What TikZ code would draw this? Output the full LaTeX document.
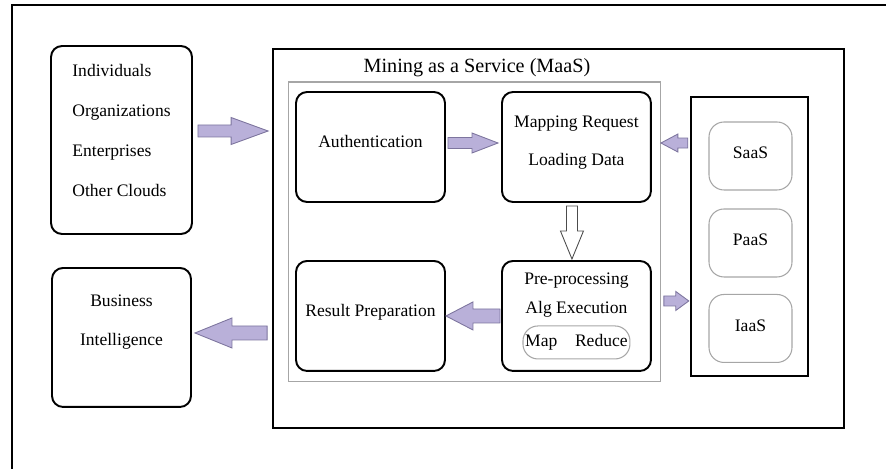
\documentclass[tikz,border=0pt]{standalone}
\usepackage{fontspec}
\setmainfont{Liberation Serif}
\usetikzlibrary{positioning,calc}

\definecolor{lavfill}{RGB}{185,176,217}
\definecolor{lavline}{RGB}{125,117,158}

% zero-width rule that lowers the last text line
\newcommand{\lowstrut}[1]{\rule[-#1]{0pt}{#1}}
% block arrow: [style]{from}{to}{shaft half width}{head half width}{head length}
\newcommand{\fatarrow}[6][lav]{%
  \coordinate (fa-b) at ($(#3)!#6!(#2)$);
  \draw[#1] ($(#2)!#4!90:(#3)$) -- ($(fa-b)!#4!90:(#3)$) -- ($(fa-b)!#5!90:(#3)$) -- (#3)
     -- ($(fa-b)!#5!-90:(#3)$) -- ($(fa-b)!#4!-90:(#3)$) -- ($(#2)!#4!-90:(#3)$) -- cycle;
}

\begin{document}
\begin{tikzpicture}[x=0.02cm, y=-0.02cm, on grid,
   rbox/.style={draw, line width=1.1pt, rounded corners=0.22cm, minimum width=2.98cm, minimum height=2.2cm, align=center, inner sep=2pt},
   gbox/.style={draw=gray!70, line width=0.6pt, rounded corners=0.3cm, minimum width=1.66cm, minimum height=1.36cm},
   mrbox/.style={draw=gray!70, line width=0.6pt, rounded corners=0.3cm, minimum width=2.14cm, minimum height=0.66cm, inner sep=1pt},
   frame/.style={draw, line width=1.1pt},
   lav/.style={fill=lavfill, draw=lavline, line width=0.5pt},
   hollow/.style={fill=white, draw=gray!60!black, line width=0.5pt}]
   \useasboundingbox (0,0) rectangle (886,469);
   \clip (0,0) rectangle (886,469);
   \node[frame, line width=1.5pt, minimum width=18.4cm, minimum height=10cm] (page) at (472,255) {};
   % users and results
   \node[rbox, minimum width=2.82cm, minimum height=3.76cm, align=left] (src) at (121.5,140)
        {Individuals\\[0.38cm]Organizations\\[0.38cm]Enterprises\\[0.38cm]Other Clouds\lowstrut{0.38cm}};
   \node[rbox, minimum width=2.78cm, minimum height=2.78cm, below=3.95cm of src] (bi)
        {Business\\[0.36cm]Intelligence\lowstrut{0.68cm}};
   % the service
   \node[frame, minimum width=11.42cm, minimum height=7.58cm] (maas) at (558.5,238.5) {};
   \node[font=\fontsize{11.5}{14}\selectfont] (maastitle) at (477,68) {Mining as a Service (MaaS)};
   \node[draw=gray!70, line width=0.6pt, minimum width=7.46cm, minimum height=6cm] (core) at (474.5,232) {};
   \node[rbox] (auth) at (370.5,147) {Authentication\lowstrut{0.24cm}};
   \node[rbox, right=4.12cm of auth] (mapreq) {Mapping Request\\[0.34cm]Loading Data\lowstrut{0.24cm}};
   \node[rbox, below=3.38cm of auth] (result) {Result Preparation\lowstrut{0.24cm}};
   \node[rbox, below=3.38cm of mapreq] (prep) {Pre-processing\\[0.16cm]Alg Execution\lowstrut{0.9cm}};
   \node[mrbox, below=0.53cm of prep] (mapred) {Map\quad Reduce};
   % cloud layers
   \node[frame, line width=1.4pt, minimum width=2.34cm, minimum height=5.58cm] (cloud) at (749.5,236.5) {};
   \node[gbox] (saas) at (750.5,156) {SaaS\lowstrut{0.12cm}};
   \node[gbox, below=1.74cm of saas] (paas) {PaaS\lowstrut{0.12cm}};
   \node[gbox, below=1.71cm of paas] (iaas) {IaaS\lowstrut{0.12cm}};
   % arrow ends
   \coordinate (in1) at ([shift={(.1cm,.18cm)}]src.east);
   \coordinate (in2) at ($(in1 -| maas.west)+(-.08cm,0)$);
   \coordinate (out1) at ([shift={(-.1cm,-1.89cm)}]maas.west);
   \coordinate (out2) at ($(out1 -| bi.east)+(.06cm,0)$);
   \coordinate (au1) at ([shift={(.04cm,.08cm)}]auth.east);
   \coordinate (au2) at ($(au1 -| mapreq.west)+(-.06cm,0)$);
   \coordinate (pr1) at ([xshift=-.02cm]prep.west);
   \coordinate (pr2) at (pr1 -| result.east);
   \coordinate (ld1) at ([shift={(-.09cm,-.06cm)}]mapreq.south);
   \coordinate (ld2) at ($(ld1 |- prep.north)+(0,.02cm)$);
   \coordinate (cl1) at ([shift={(-.04cm,1.87cm)}]cloud.west);
   \coordinate (cl2) at ($(cl1 -| mapreq.east)+(.18cm,0)$);
   \coordinate (ex1) at ([shift={(.24cm,.3cm)}]prep.east);
   \coordinate (ex2) at ($(ex1 -| cloud.west)+(-.02cm,0)$);
   \fatarrow{in1}{in2}{.12cm}{.27cm}{.74cm}
   \fatarrow{out1}{out2}{.14cm}{.3cm}{.74cm}
   \fatarrow{au1}{au2}{.11cm}{.2cm}{.52cm}
   \fatarrow{pr1}{pr2}{.14cm}{.28cm}{.54cm}
   \fatarrow[hollow]{ld1}{ld2}{.11cm}{.23cm}{.56cm}
   \fatarrow{cl1}{cl2}{.1cm}{.18cm}{.34cm}
   \fatarrow{ex1}{ex2}{.1cm}{.19cm}{.26cm}
\end{tikzpicture}
\end{document}
